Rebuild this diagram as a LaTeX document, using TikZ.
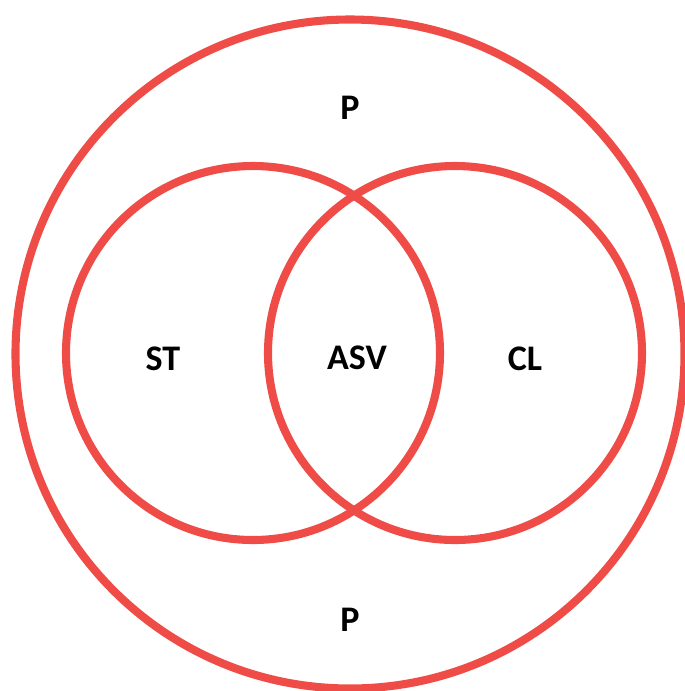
\documentclass[tikz,border=0pt]{standalone}
\usepackage{fontspec}
\setmainfont{Carlito}
\definecolor{vnred}{RGB}{239,76,71}
\usetikzlibrary{positioning}

\begin{document}
\begin{tikzpicture}[x=0.02cm, y=-0.02cm]
  \useasboundingbox (0,0) rectangle (685,691);
  \tikzset{ring/.style={draw=vnred, line width=4.6pt}, lbl/.style={font=\fontsize{20.5}{22}\selectfont\bfseries, inner sep=0pt}}
  % Outer set
  \draw[ring] (350,354) circle (334.5);
  % Two overlapping sets
  \draw[ring] (253,353) circle (187);
  \draw[ring] (455,353) circle (187);
  % Labels
  \node[lbl] (ptop) at (350,108) {P};
  \node[lbl] (pbot) at (350,620) {P};
  \node[lbl] (st) at (163,359) {ST};
  \node[lbl] (asv) at (357,358) {ASV};
  \node[lbl] (cl) at (525,359) {CL};
\end{tikzpicture}
\end{document}
